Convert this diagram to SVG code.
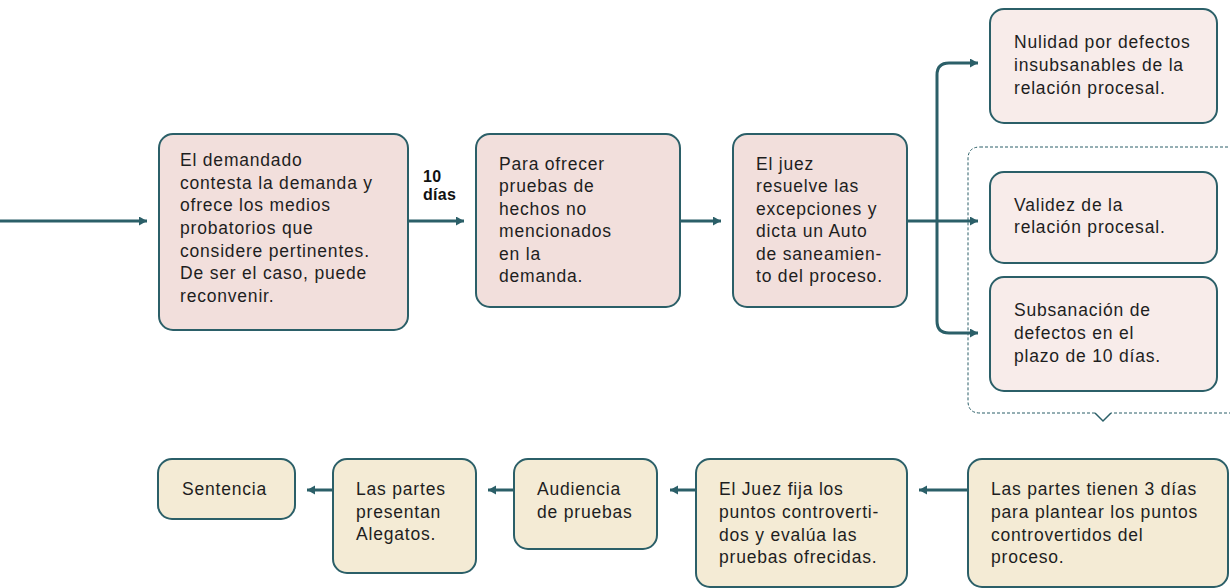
<svg xmlns="http://www.w3.org/2000/svg" width="1230" height="588" viewBox="0 0 1230 588">
<defs>
<marker id="ah" markerUnits="userSpaceOnUse" markerWidth="10" markerHeight="10" refX="8" refY="4.5" orient="auto">
<path d="M0,0 L8,4.5 L0,9 z" fill="#2b5f68"/>
</marker>
<style>
.pk{fill:#f2dfdc;stroke:#2b5f68;stroke-width:2}
.lp{fill:#f8ecea;stroke:#2b5f68;stroke-width:2}
.bg{fill:#f4ebd5;stroke:#2b5f68;stroke-width:2}
text{font-family:"Liberation Sans",Arial,sans-serif;font-size:17.5px;letter-spacing:0.8px;fill:#1e1e1e}
.b{font-weight:bold;font-size:16px;letter-spacing:0.3px;fill:#111}
.c{fill:none;stroke:#2b5f68;stroke-width:3;marker-end:url(#ah)}
</style>
</defs>
<rect width="1230" height="588" fill="#ffffff"/>
<g id="container">
<path d="M980,147 L1232,147 M1232,413 L1111,413 M1095,413 L980,413 Q968,413 968,401 L968,159 Q968,147 980,147" fill="none" stroke="#2b5f68" stroke-width="1" stroke-dasharray="3,2"/>
<path d="M1111,413 L1103,421 L1095,413" fill="none" stroke="#2b5f68" stroke-width="1.5"/>
</g>
<g id="connectors">
<line class="c" x1="0" y1="221" x2="147" y2="221"/>
<line class="c" x1="409" y1="221" x2="464" y2="221"/>
<line class="c" x1="681" y1="221" x2="721" y2="221"/>
<line class="c" x1="908" y1="221" x2="978" y2="221"/>
<path class="c" d="M937,221 L937,75 Q937,63 949,63 L978,63"/>
<path class="c" d="M937,221 L937,321 Q937,333 949,333 L978,333"/>
<line class="c" x1="968" y1="490" x2="919" y2="490"/>
<line class="c" x1="696" y1="490" x2="670" y2="490"/>
<line class="c" x1="514" y1="490" x2="488" y2="490"/>
<line class="c" x1="333" y1="490" x2="307" y2="490"/>
<text class="b" x="423" y="182">10</text>
<text class="b" x="423" y="200">días</text>
</g>
<g id="n1">
<rect class="pk" x="159" y="134" width="249" height="196" rx="14"/>
<text x="180" y="166">El demandado</text>
<text x="180" y="189">contesta la demanda y</text>
<text x="180" y="211">ofrece los medios</text>
<text x="180" y="234">probatorios que</text>
<text x="180" y="257">considere pertinentes.</text>
<text x="180" y="279">De ser el caso, puede</text>
<text x="180" y="302">reconvenir.</text>
</g>
<g id="n2">
<rect class="pk" x="476" y="134" width="204" height="173" rx="14"/>
<text x="499" y="170">Para ofrecer</text>
<text x="499" y="192">pruebas de</text>
<text x="499" y="215">hechos no</text>
<text x="499" y="237">mencionados</text>
<text x="499" y="260">en la</text>
<text x="499" y="282">demanda.</text>
</g>
<g id="n3">
<rect class="pk" x="733" y="134" width="174" height="173" rx="14"/>
<text x="756" y="170">El juez</text>
<text x="756" y="192">resuelve las</text>
<text x="756" y="215">excepciones y</text>
<text x="756" y="237">dicta un Auto</text>
<text x="756" y="260">de saneamien-</text>
<text x="756" y="282">to del proceso.</text>
</g>
<g id="n4">
<rect class="lp" x="990" y="9" width="227" height="114" rx="14"/>
<text x="1014" y="48">Nulidad por defectos</text>
<text x="1014" y="71">insubsanables de la</text>
<text x="1014" y="94">relación procesal.</text>
</g>
<g id="n5">
<rect class="lp" x="990" y="172" width="227" height="91" rx="14"/>
<text x="1014" y="211">Validez de la</text>
<text x="1014" y="233">relación procesal.</text>
</g>
<g id="n6">
<rect class="lp" x="990" y="277" width="227" height="114" rx="14"/>
<text x="1014" y="316">Subsanación de</text>
<text x="1014" y="339">defectos en el</text>
<text x="1014" y="362">plazo de 10 días.</text>
</g>
<g id="n7">
<rect class="bg" x="968" y="459" width="260" height="128" rx="14"/>
<text x="991" y="495">Las partes tienen 3 días</text>
<text x="991" y="518">para plantear los puntos</text>
<text x="991" y="541">controvertidos del</text>
<text x="991" y="563">proceso.</text>
</g>
<g id="n8">
<rect class="bg" x="696" y="459" width="211" height="128" rx="14"/>
<text x="719" y="495">El Juez fija los</text>
<text x="719" y="518">puntos controverti-</text>
<text x="719" y="541">dos y evalúa las</text>
<text x="719" y="563">pruebas ofrecidas.</text>
</g>
<g id="n9">
<rect class="bg" x="514" y="459" width="143" height="90" rx="14"/>
<text x="537" y="495">Audiencia</text>
<text x="537" y="518">de pruebas</text>
</g>
<g id="n10">
<rect class="bg" x="333" y="459" width="143" height="114" rx="14"/>
<text x="356" y="495">Las partes</text>
<text x="356" y="518">presentan</text>
<text x="356" y="540">Alegatos.</text>
</g>
<g id="n11">
<rect class="bg" x="158" y="459" width="137" height="60" rx="14"/>
<text x="182" y="495">Sentencia</text>
</g>
</svg>
